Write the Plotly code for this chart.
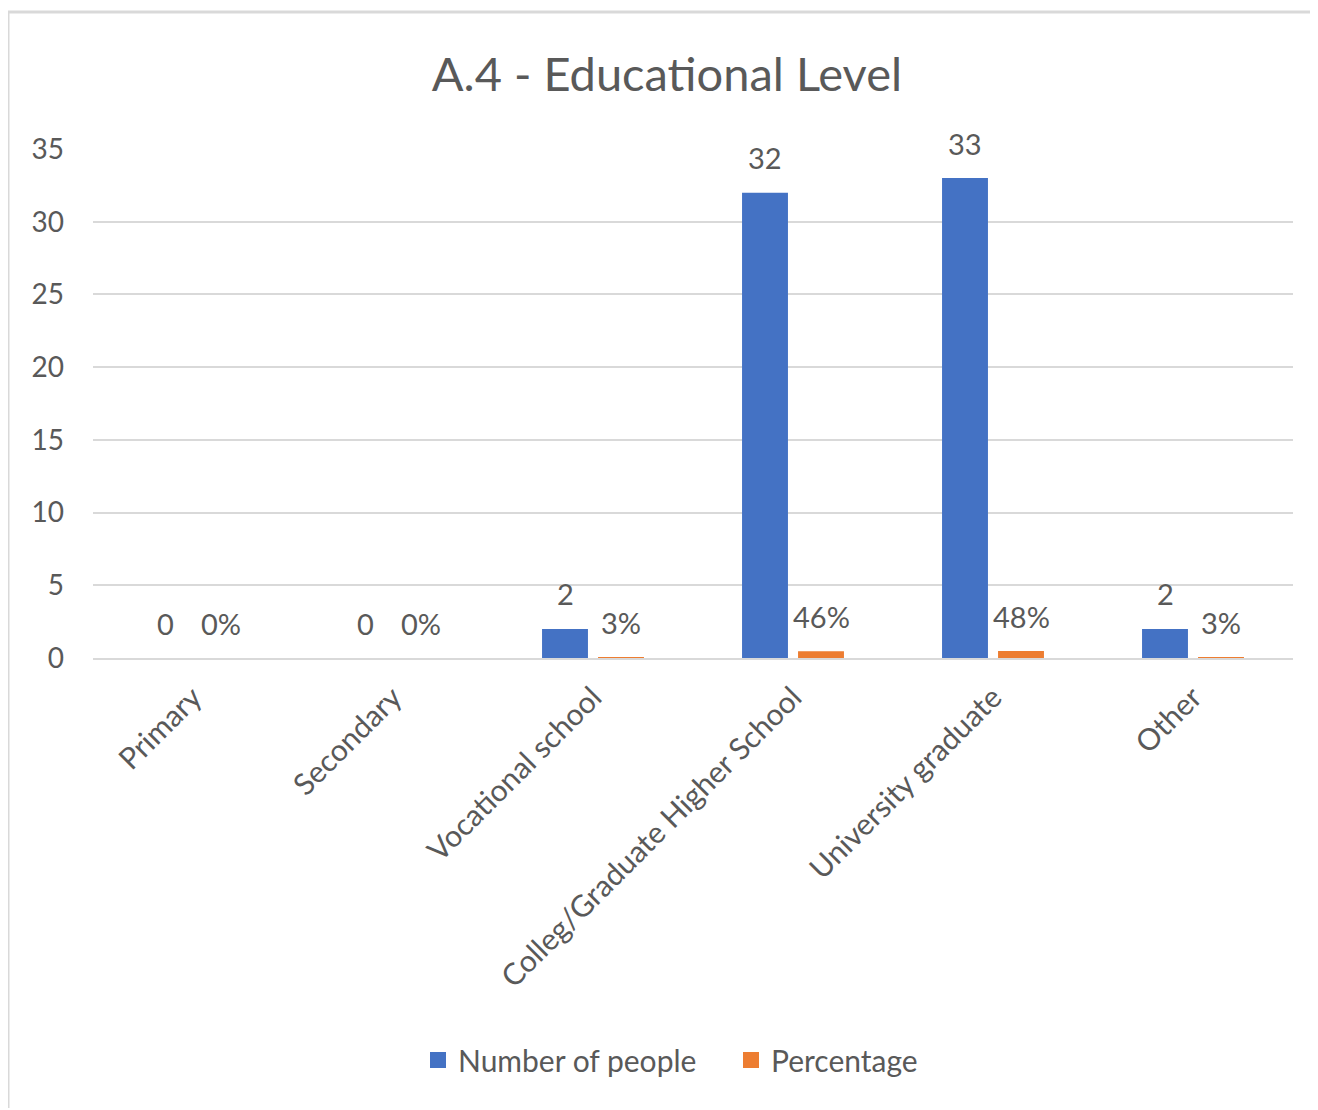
import plotly.graph_objects as go

categories = ["Primary", "Secondary", "Vocational school",
              "Colleg/Graduate Higher School", "University graduate", "Other"]
counts = [0, 0, 2, 32, 33, 2]
percentages = [0, 0, 0.029, 0.464, 0.478, 0.029]
y_ticks = [0, 5, 10, 15, 20, 25, 30, 35]
series_names = ["Number of people", "Percentage"]

BLUE = "#4472C4"
ORANGE = "#ED7D31"
TXT = "#595959"
FONT = "Lato, Carlito, Calibri, sans-serif"

W, H = 1310, 1100
ML, MR, MT, MB = 85, 25, 141, 450
PW = W - ML - MR
PH = H - MT - MB

fig = go.Figure()
fig.add_trace(go.Bar(x=categories, y=counts, name=series_names[0], showlegend=False,
                     legendgroup="a", marker=dict(color=BLUE, line=dict(width=0))))
fig.add_trace(go.Bar(x=categories, y=percentages, name=series_names[1], showlegend=False,
                     legendgroup="b", marker=dict(color=ORANGE, line=dict(width=0))))
# legend entries with larger square swatches
fig.add_trace(go.Scatter(x=[None], y=[None], mode="markers", name=series_names[0],
                         legendgroup="a",
                         marker=dict(symbol="square", size=17, color=BLUE)))
fig.add_trace(go.Scatter(x=[None], y=[None], mode="markers", name=series_names[1],
                         legendgroup="b",
                         marker=dict(symbol="square", size=17, color=ORANGE)))

ann = []
for c, v in zip(categories, counts):
    ann.append(dict(x=c, y=v, xref="x", yref="y", text=str(v), showarrow=False,
                    xshift=-28, yshift=35, font=dict(size=29, color=TXT, family=FONT)))
for c, v in zip(categories, percentages):
    ann.append(dict(x=c, y=v, xref="x", yref="y", text=f"{v:.0%}", showarrow=False,
                    xshift=28, yshift=35, font=dict(size=29, color=TXT, family=FONT)))

# outer chart border (top and left)
x0 = -ML / PW
y_top = 1 + (MT - 4) / PH
y_bot = 1 - (H - MT) / PH
shapes = [
    dict(type="line", xref="paper", yref="paper", x0=x0, x1=1 + MR / PW, y0=y_top, y1=y_top,
         line=dict(color="#D9D9D9", width=3)),
    dict(type="line", xref="paper", yref="paper", x0=x0, x1=x0, y0=y_top, y1=y_bot,
         line=dict(color="#D9D9D9", width=3)),
]

fig.update_layout(
    width=W, height=H,
    margin=dict(l=ML, r=MR, t=MT, b=MB),
    paper_bgcolor="white", plot_bgcolor="white",
    barmode="group", bargap=0.44, bargroupgap=0.18,
    font=dict(family=FONT, color=TXT, size=29),
    title=dict(text="A.4 - Educational Level", x=0.503, xanchor="center",
               y=1 - 67 / H, yanchor="middle",
               font=dict(size=47, color=TXT, family=FONT)),
    legend=dict(orientation="h", x=(410 - ML) / PW, xanchor="left",
                y=(PH - (1052 - MT)) / PH, yanchor="middle",
                font=dict(size=30, color=TXT, family=FONT),
                itemwidth=30, entrywidth=268, entrywidthmode="pixels",
                traceorder="normal"),
    annotations=ann,
    shapes=shapes,
    showlegend=True,
)
fig.update_xaxes(tickangle=-45, showgrid=False, showline=True, linecolor="#D9D9D9",
                 linewidth=2, ticks="", ticklabelstandoff=8,
                 tickfont=dict(size=30, color=TXT))
fig.update_yaxes(range=[0, 35], tickvals=y_ticks, showgrid=True, gridcolor="#D9D9D9",
                 gridwidth=1.5, zeroline=False, showline=False, ticks="",
                 ticklabelstandoff=28, tickfont=dict(size=28, color=TXT))

fig.write_html("out.html")
